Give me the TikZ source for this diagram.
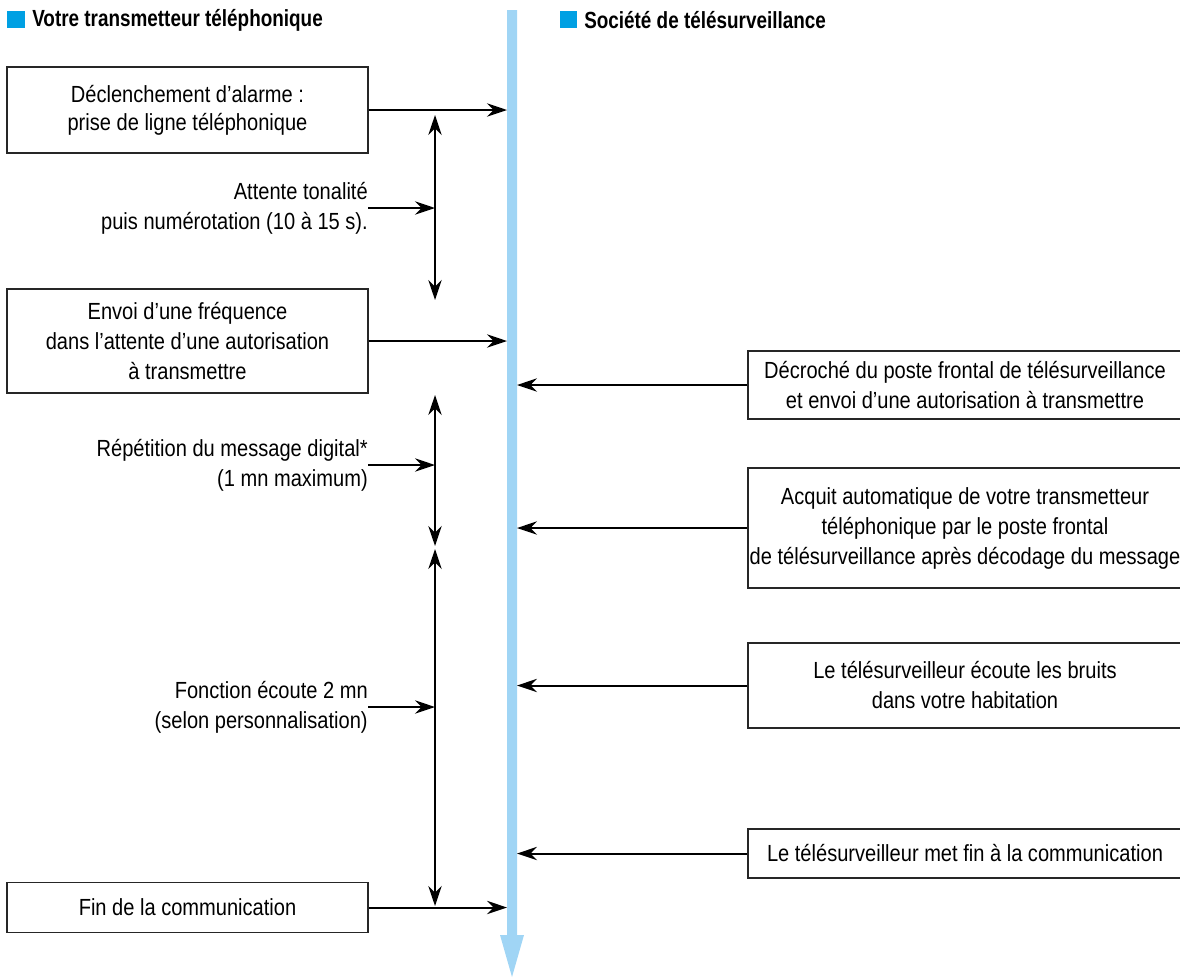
\documentclass[tikz,border=0pt]{standalone}
\usepackage{fontspec}
\setmainfont[FakeStretch=0.86]{Liberation Sans}
\newfontfamily\headfont[FakeStretch=0.81]{Liberation Sans Bold}
\usetikzlibrary{arrows.meta}
\definecolor{headblue}{RGB}{0,160,227}
\definecolor{barblue}{RGB}{160,213,245}

\begin{document}
\begin{tikzpicture}[x=0.75pt,y=0.75pt,yscale=-1,xscale=1,
    >={Stealth[length=15pt,width=10pt]},
    every node/.style={font=\fontsize{17.5pt}{22.5pt}\selectfont},
    leftbox/.style={draw=black!85,line width=0.9pt,minimum width=270.75pt,align=center,inner sep=1pt},
    rightbox/.style={draw=black!85,line width=0.9pt,minimum width=325.5pt,align=center,inner sep=1pt},
    sidelabel/.style={anchor=east,align=right,inner sep=0pt},
    header/.style={anchor=west,inner sep=0pt,font=\headfont\fontsize{17.5pt}{22.5pt}\selectfont},
    flow/.style={->,line width=1.5pt},
    span/.style={<->,line width=1.5pt}]
        \useasboundingbox (0,0) rectangle (1180,978);
        %Headers
        \fill [headblue] (7,11) rectangle (25,28) ;
        \node [header] (headL) at (32,20) {Votre transmetteur téléphonique};
        \fill [headblue] (560,11) rectangle (577,28) ;
        \node [header] (headR) at (584,20) {Société de télésurveillance};
        %Time bar
        \fill [barblue] (507,10) -- (517,10) -- (517,935) -- (524,935) -- (512,977) -- (500,935) -- (507,935) -- cycle ;
        \coordinate (barL) at (507,0);
        \coordinate (barR) at (517,0);

        %Left boxes
        \node [leftbox,minimum height=64.5pt,font=\fontsize{17.5pt}{21pt}\selectfont] (alarm) at (187.5,110) {Déclenchement d’alarme :\\prise de ligne téléphonique};
        \node [leftbox,minimum height=78pt] (freq) at (187.5,341) {Envoi d’une fréquence\\dans l’attente d’une autorisation\\à transmettre};
        \node [leftbox,minimum height=37.5pt] (fin) at (187.5,907.5) {Fin de la communication};
        %Right boxes
        \node [rightbox,minimum height=51pt] (decroche) at (965,385) {Décroché du poste frontal de télésurveillance\\et envoi d’une autorisation à transmettre};
        \node [rightbox,minimum height=90pt] (acquit) at (965,528) {Acquit automatique de votre transmetteur\\téléphonique par le poste frontal\\de télésurveillance après décodage du message};
        \node [rightbox,minimum height=63.75pt] (ecoute) at (965,685.5) {Le télésurveilleur écoute les bruits\\dans votre habitation};
        \node [rightbox,minimum height=36.75pt] (finsurv) at (965,853.5) {Le télésurveilleur met fin à la communication};
        %Durations
        \node [sidelabel] (tone) at (368,208) {Attente tonalité\\puis numérotation (10 à 15 s).};
        \node [sidelabel] (repeat) at (368,465) {Répétition du message digital*\\(1 mn maximum)};
        \node [sidelabel] (listen) at (368,707) {Fonction écoute 2 mn\\(selon personnalisation)};
        \coordinate (w1a) at (435,115);
        \coordinate (w1b) at (435,300);
        \coordinate (w2a) at (435,395);
        \coordinate (w2b) at (435,546);
        \coordinate (w3a) at (435,549);
        \coordinate (w3b) at (435,906);
        \draw [span] (w1a) -- (w1b) ;
        \draw [span] (w2a) -- (w2b) ;
        \draw [span] (w3a) -- (w3b) ;
        \draw [flow] (tone.east) -- (tone.east -| w1a) ;
        \draw [flow] (repeat.east) -- (repeat.east -| w2a) ;
        \draw [flow] (listen.east) -- (listen.east -| w3a) ;

        %Messages to the bar
        \draw [flow] (alarm.east) -- (alarm.east -| barL) ;
        \draw [flow] (freq.east) -- (freq.east -| barL) ;
        \draw [flow] (fin.east) -- (fin.east -| barL) ;
        \draw [flow] (decroche.west) -- (decroche.west -| barR) ;
        \draw [flow] (acquit.west) -- (acquit.west -| barR) ;
        \draw [flow] (ecoute.west) -- (ecoute.west -| barR) ;
        \draw [flow] (finsurv.west) -- (finsurv.west -| barR) ;
\end{tikzpicture}
\end{document}
